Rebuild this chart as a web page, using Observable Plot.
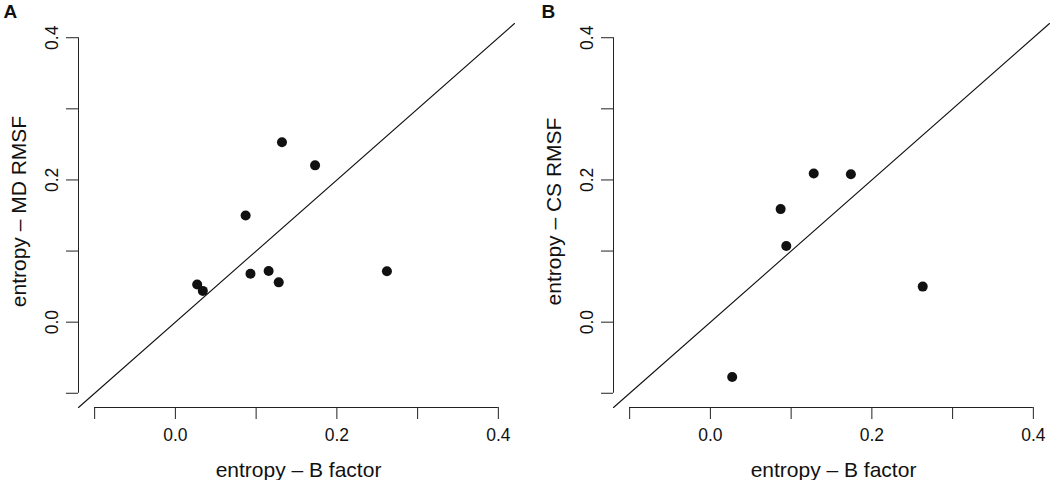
<!DOCTYPE html>
<html>
<head>
<meta charset="utf-8">
<script src="https://cdn.jsdelivr.net/npm/d3@7"></script>
<script src="https://cdn.jsdelivr.net/npm/@observablehq/plot@0.6"></script>
<style>
  html, body { margin: 0; padding: 0; background: #fff; }
  #row { display: flex; flex-direction: row; width: 1050px; height: 480px; }
  #row svg { display: block; }
</style>
</head>
<body>
<div id="row"></div>
<script>
// ---- data ----
const bFactorA = [0.132, 0.173, 0.087, 0.093, 0.1155, 0.128, 0.262, 0.027, 0.034];
const mdRmsf   = [0.253, 0.2205, 0.150, 0.068, 0.072, 0.056, 0.0716, 0.053, 0.044];
const bFactorB = [0.128, 0.174, 0.087, 0.094, 0.263, 0.027];
const csRmsf   = [0.209, 0.208, 0.159, 0.107, 0.050, -0.077];

const tickValues = [-0.1, 0.0, 0.1, 0.2, 0.3, 0.4];
const tickLabels = ["", "0.0", "", "0.2", "", "0.4"];
const axisRange = [-0.1, 0.4];
const panelLetters = ["A", "B"];
const xTitle = "entropy \u2013 B factor";
const yTitles = ["entropy \u2013 MD RMSF", "entropy \u2013 CS RMSF"];

// R-style 4% extension of the axis range
const ext = (axisRange[1] - axisRange[0]) * 0.04;
const domain = [axisRange[0] - ext, axisRange[1] + ext];

const font = "'Liberation Sans', Arial, Helvetica, sans-serif";
const ink = "#111";

function panel(xs, ys, letter, yTitle, marginLeft, marginRight, letterX) {
  const pts = xs.map((x, i) => ({x, y: ys[i]}));
  const fmt = d => tickLabels[tickValues.findIndex(t => Math.abs(t - d) < 1e-9)];
  return Plot.plot({
    width: 525,
    height: 480,
    marginLeft,
    marginRight,
    marginTop: 23,
    marginBottom: 73,
    style: {fontFamily: font, color: ink, background: "#fff", overflow: "visible"},
    x: {domain, label: null},
    y: {domain, label: null},
    marks: [
      // axis lines spanning first..last tick, at the plot-region edge
      Plot.ruleX([domain[0]], {y1: tickValues[0], y2: tickValues[tickValues.length - 1], stroke: "#222", strokeWidth: 1}),
      Plot.ruleY([domain[0]], {x1: tickValues[0], x2: tickValues[tickValues.length - 1], stroke: "#222", strokeWidth: 1}),
      Plot.axisX({ticks: tickValues, tickSize: 12, tickPadding: 9, tickFormat: fmt, fontSize: 17.5, stroke: "#222", fill: ink, label: null}),
      Plot.axisY({ticks: tickValues, tickSize: 12, tickPadding: 9, tickRotate: -90, tickFormat: fmt, fontSize: 17.5, stroke: "#222", fill: ink, label: null}),
      // identity line across the plot region
      Plot.line([[domain[0], domain[0]], [domain[1], domain[1]]], {stroke: ink, strokeWidth: 1.1}),
      Plot.dot(pts, {x: "x", y: "y", r: 5, fill: ink, stroke: "none"}),
      // axis titles
      Plot.text([xTitle], {frameAnchor: "bottom", text: d => d, dy: 69, dx: 2, lineAnchor: "bottom", textAnchor: "middle", fontSize: 21, fill: ink}),
      Plot.text([yTitle], {frameAnchor: "left", text: d => d, rotate: -90, dx: -53, dy: -4, lineAnchor: "bottom", textAnchor: "middle", fontSize: 21, fill: ink}),
      // panel letter
      Plot.text([letter], {frameAnchor: "top-left", text: d => d, dx: letterX - marginLeft, dy: -6, lineAnchor: "bottom", textAnchor: "start", fontSize: 19, fontWeight: "bold", fill: ink})
    ]
  });
}

const row = document.getElementById("row");
row.appendChild(panel(bFactorA, mdRmsf, panelLetters[0], yTitles[0], 78, 11, 3));
row.appendChild(panel(bFactorB, csRmsf, panelLetters[1], yTitles[1], 88, 1, 16));
</script>
</body>
</html>
